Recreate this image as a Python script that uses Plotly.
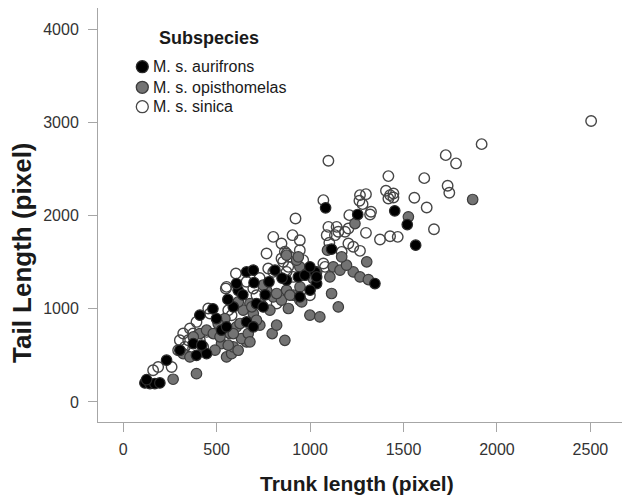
import plotly.graph_objects as go

# ---------------- data ----------------
aurifrons_x = [116, 143, 169, 196, 125, 232, 303, 375, 392, 446, 410, 499, 526, 553, 589,
               615, 606, 660, 696, 812, 713, 749, 660, 696, 874, 937, 972, 1026, 1035, 999,
               1035, 945, 1083, 1115, 1255, 1347, 1453, 1520, 1565,
               560, 480, 640, 780, 700, 850, 420, 1000, 760]
aurifrons_y = [204, 197, 197, 204, 240, 448, 555, 627, 501, 519, 931, 895, 770, 806, 1020,
               1199, 1271, 1396, 1414, 1414, 1056, 1020, 859, 806, 1307, 1342, 1360, 1396, 1271, 1450,
               1342, 1128, 2083, 1640, 2012, 1271, 2051, 1904, 1683,
               1100, 1000, 1150, 1290, 1280, 1330, 610, 1200, 1150]

opisthomelas_x = [267, 392, 321, 357, 410, 375, 446, 482, 553, 580, 589, 660, 526, 615, 562,
                  633, 571, 669, 606, 589, 544, 508, 678, 642, 696, 731, 713, 797, 821, 865,
                  678, 767, 803, 749, 874, 910, 945, 847, 785, 945, 981, 928, 874, 1124, 1160,
                  1231, 1195, 1106, 1093, 1115, 1151, 999, 1052, 955, 937, 946, 1035, 1017, 1169, 1267,
                  1312, 1303, 1240, 1526, 1870, 821, 892,
                  688, 741, 616, 625, 884, 518, 491]
opisthomelas_y = [244, 304, 519, 483, 734, 698, 770, 734, 483, 519, 591, 644, 627, 555, 609,
                  680, 734, 734, 806, 734, 895, 841, 1056, 985, 949, 824, 877, 734, 824, 662,
                  645, 1199, 1128, 1253, 1199, 1146, 1092, 1092, 985, 1450, 1378, 1522, 1575, 1450, 1414,
                  1396, 1468, 1342, 1629, 1164, 1020, 931, 913, 1074, 1557, 1235, 1396, 1325, 1557, 1342,
                  1314, 1504, 1915, 1987, 2173, 1164, 1146,
                  1021, 1039, 1075, 842, 1003, 699, 556]

sinica_x = [187, 259, 160, 392, 357, 321, 303, 348, 374, 410, 330, 294, 374, 428, 446,
            455, 464, 562, 580, 549, 603, 696, 713, 553, 767, 776, 803, 803, 821, 922,
            906, 945, 847, 874, 856, 883, 945, 963, 910, 874, 847, 999, 1151, 1231, 1210,
            1098, 1142, 1089, 1133, 1103, 1187, 1205, 1205, 1169, 1267, 1071, 1080, 1098, 1071, 1267,
            1299, 1264, 1281, 1321, 1326, 1299, 1374, 1428, 1469, 1406, 1428, 1446, 1419, 1446, 1419,
            1558, 1611, 1624, 1663, 1726, 1781, 1736, 1745, 1918, 2504,
            865, 892, 660, 730]
sinica_y = [376, 376, 340, 859, 788, 734, 662, 662, 734, 662, 591, 555, 573, 591, 752,
            1003, 949, 985, 931, 1217, 1378, 1217, 1146, 1235, 1593, 1432, 1772, 1396, 1056, 1969,
            1790, 1736, 1701, 1593, 1504, 1450, 1629, 1522, 1342, 1396, 1540, 1146, 1826, 1665, 2005,
            1879, 1879, 1790, 1790, 1708, 1826, 1862, 1700, 1611, 1622, 1486, 1450, 2588, 2166, 2220,
            2230, 2159, 2123, 2012, 2041, 1815, 1743, 1779, 1772, 2266, 2220, 2237, 2184, 2194, 2424,
            2191, 2402, 2087, 1854, 2649, 2560, 2320, 2245, 2767, 3015,
            1612, 1558, 1290, 1330]

x_ticks = [0, 500, 1000, 1500, 2000, 2500]
y_ticks = [0, 1000, 2000, 3000, 4000]

legend_title = "Subspecies"
series_names = ["M. s. aurifrons", "M. s. opisthomelas", "M. s. sinica"]

# ---------------- styles / layout ----------------
FONT = "Liberation Sans, Arial, sans-serif"
BODY = 8                      # default page margin of the html body
W, H = 630 - BODY, 500 - BODY
ML, MT = 98 - BODY, 8 - BODY
PW, PH = 532, 414
MR = W - ML - PW
MB = H - MT - PH

styles = {
    "M. s. aurifrons": dict(color="#000000", line=dict(color="#2a2a2a", width=1.2)),
    "M. s. opisthomelas": dict(color="#737373", line=dict(color="#3c3c3c", width=1.2)),
    "M. s. sinica": dict(color="rgba(255,255,255,0)", line=dict(color="#464646", width=1.4)),
}


def paper(px, py):
    """window pixel -> paper fraction"""
    fx, fy = px - BODY, py - BODY
    return (fx - ML) / PW, (MT + PH - fy) / PH


fig = go.Figure()
for name, xs, ys in [("M. s. sinica", sinica_x, sinica_y),
                     ("M. s. opisthomelas", opisthomelas_x, opisthomelas_y),
                     ("M. s. aurifrons", aurifrons_x, aurifrons_y)]:
    st = styles[name]
    fig.add_trace(go.Scatter(
        x=xs, y=ys, mode="markers", name=name, showlegend=False,
        marker=dict(symbol="circle", size=10.5, color=st["color"], line=st["line"]),
    ))

axis_common = dict(
    showgrid=False, zeroline=False, showline=True, linecolor="#a6a6a6", linewidth=1,
    ticks="outside", ticklen=9, tickwidth=1, tickcolor="#a6a6a6",
    tickfont=dict(family=FONT, size=16, color="#333333"),
)
fig.update_xaxes(range=[-135, 2712], tickvals=x_ticks, ticktext=[str(v) for v in x_ticks],
                 ticklabelstandoff=4, **axis_common)
fig.update_yaxes(range=[-215, 4228], tickvals=y_ticks, ticktext=[str(v) for v in y_ticks],
                 ticklabelstandoff=6, **axis_common)

annotations = []
tx, ty = paper(357, 483)
annotations.append(dict(text="<b>Trunk length (pixel)</b>", x=tx, y=ty, xref="paper", yref="paper",
                        xanchor="center", yanchor="middle", showarrow=False,
                        font=dict(family=FONT, size=21, color="#1a1a1a")))
tx, ty = paper(22, 253)
annotations.append(dict(text="<b>Tail Length (pixel)</b>", x=tx, y=ty, xref="paper", yref="paper",
                        xanchor="center", yanchor="middle", showarrow=False, textangle=-90,
                        font=dict(family=FONT, size=26, color="#1a1a1a")))
tx, ty = paper(208.7, 38)
annotations.append(dict(text="<b>" + legend_title + "</b>", x=tx, y=ty, xref="paper", yref="paper",
                        xanchor="center", yanchor="middle", showarrow=False,
                        font=dict(family=FONT, size=18, color="#1a1a1a")))
shapes = []
for name, py in zip(series_names, [66.7, 87.3, 106.7]):
    st = styles[name]
    mx, my = paper(142.3, py)
    shapes.append(dict(type="circle", xref="paper", yref="paper", xsizemode="pixel", ysizemode="pixel",
                       xanchor=mx, yanchor=my, x0=-6, x1=6, y0=-6, y1=6,
                       fillcolor=st["color"], line=dict(color=st["line"]["color"], width=1.3)))
    lx, ly = paper(150.5, py)
    annotations.append(dict(text=name, x=lx, y=ly, xref="paper", yref="paper",
                            xanchor="left", yanchor="middle", showarrow=False,
                            font=dict(family=FONT, size=16, color="#1a1a1a")))

fig.update_layout(
    width=W, height=H, margin=dict(l=ML, r=MR, t=MT, b=MB, pad=0),
    plot_bgcolor="white", paper_bgcolor="white",
    annotations=annotations, shapes=shapes, showlegend=False,
)

fig.write_html("out.html")
